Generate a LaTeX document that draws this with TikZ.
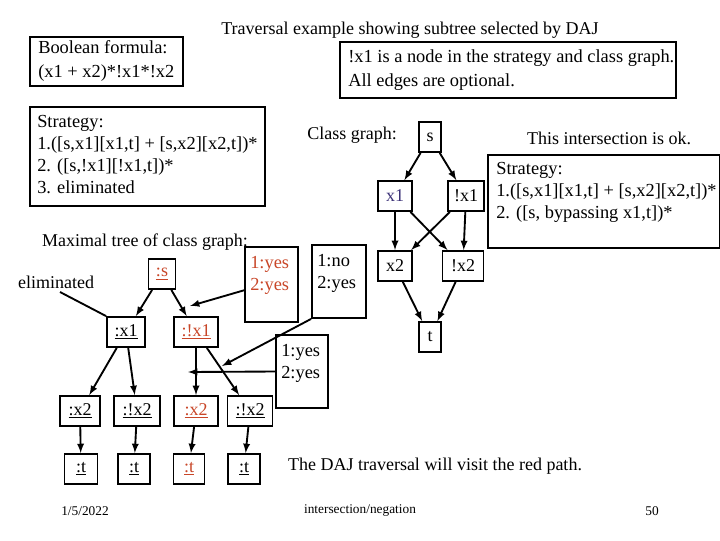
\documentclass[tikz,border=0pt]{standalone}
\usepackage{fontspec}
\setmainfont{Liberation Serif}
\begin{document}
\begin{tikzpicture}[x=0.75pt,y=-0.75pt,
  box/.style={draw,line width=1.4pt,inner sep=0pt},
  tn/.style={draw,line width=1.4pt,minimum height=30*0.75pt,font=\fontsize{13.5}{15}\selectfont,inner sep=1pt},
  ed/.style={line width=1.4pt,-latex},
  txt/.style={font=\fontsize{13.5}{15}\selectfont,inner sep=0pt},
  sm/.style={font=\fontsize{13.8}{16.5}\selectfont,inner sep=0pt,align=left}]
\definecolor{rd}{RGB}{200,70,40}
\definecolor{bl}{RGB}{60,50,120}
\useasboundingbox (0,0) rectangle (720,540);
% top
\node[txt] (title) at (410,30) {Traversal example showing subtree selected by DAJ};
\draw[line width=1.4pt] (30,37) rectangle (183,86);
\node[sm,anchor=west] (bool) at (38,61) {Boolean formula:\\[1pt](x1 + x2)*!x1*!x2};
\draw[line width=1.4pt] (340,42) rectangle (676,98);
\node[sm,anchor=west] (note) at (348,70) {!x1 is a node in the strategy and class graph.\\[1pt]All edges are optional.};
\draw[line width=1.4pt] (30,107) rectangle (265,206);
\node[sm,anchor=north west] (strat) at (37,115) {Strategy:\\1.([s,x1][x1,t] + [s,x2][x2,t])*\\2. ([s,!x1][!x1,t])*\\3. eliminated};
% class graph
\node[txt] (cgl) at (352,135) {Class graph:};
\node[tn,minimum width=22*0.75pt,inner sep=1pt] (s) at (430,137) {s};
\node[tn,minimum width=34*0.75pt,text=bl] (x1) at (395,196) {x1};
\node[tn,minimum width=36*0.75pt] (nx1) at (466,196) {!x1};
\node[tn,minimum width=34*0.75pt] (x2) at (395,266) {x2};
\node[tn,minimum width=41*0.75pt] (nx2) at (463,266) {!x2};
\node[tn,minimum width=22*0.75pt,inner sep=1pt] (t) at (430,337) {t};
\draw[ed] (s) -- (x1); \draw[ed] (s) -- (nx1);
\draw[ed] (x1) -- (x2); \draw[ed] (x1) -- (nx2);
\draw[ed] (nx1) -- (x2); \draw[ed] (nx1) -- (nx2);
\draw[ed] (x2) -- (t); \draw[ed] (nx2) -- (t);
\node[txt] (ok) at (609,138) {This intersection is ok.};
\draw[line width=1.4pt] (488,155) rectangle (720,248);
\node[sm,anchor=north west] (strat2) at (496,162) {Strategy:\\1.([s,x1][x1,t] + [s,x2][x2,t])*\\2. ([s, bypassing x1,t])*};
% tree
\node[txt] (mt) at (145,242) {Maximal tree of class graph:};
\node[txt] (elim) at (56,282) {eliminated};
\node[tn,minimum width=27*0.75pt,text=rd] (ts) at (162,274) {\underline{:s}};
\node[tn,minimum width=38*0.75pt] (tx1) at (126,332) {\underline{:x1}};
\node[tn,minimum width=44*0.75pt,text=rd] (tnx1) at (196,332) {\underline{:!x1}};
\node[tn,minimum width=40*0.75pt] (a2) at (80,411) {\underline{:x2}};
\node[tn,minimum width=46*0.75pt] (b2) at (137,411) {\underline{:!x2}};
\node[tn,minimum width=44*0.75pt,text=rd] (c2) at (196,411) {\underline{:x2}};
\node[tn,minimum width=45*0.75pt] (d2) at (250,411) {\underline{:!x2}};
\node[tn,minimum width=33*0.75pt] (at) at (81,469) {\underline{:t}};
\node[tn,minimum width=32*0.75pt] (bt) at (134,469) {\underline{:t}};
\node[tn,minimum width=31*0.75pt,text=rd] (ct) at (189,469) {\underline{:t}};
\node[tn,minimum width=32*0.75pt] (dt) at (244,469) {\underline{:t}};
\draw[ed] (ts) -- (tx1); \draw[ed] (ts) -- (tnx1);
\draw[ed] (tx1) -- (a2); \draw[ed] (tx1) -- (b2);
\draw[ed] (tnx1) -- (c2); \draw[ed] (tnx1) -- (d2);
\draw[ed] (a2) -- (at); \draw[ed] (b2) -- (bt); \draw[ed] (c2) -- (ct); \draw[ed] (d2) -- (dt);
\draw[line width=1.4pt] (60,292) -- (tx1.north west);
% annotation boxes
\node[box,minimum width=53*0.75pt,minimum height=75*0.75pt] (y1) at (271.5,284.5) {};
\node[sm,text=rd,anchor=north west] (y1t) at (250,256) {1:yes\\2:yes};
\node[box,minimum width=54*0.75pt,minimum height=73*0.75pt] (n1) at (339,281.5) {};
\node[sm,anchor=north west] (n1t) at (317,254) {1:no\\2:yes};
\node[box,minimum width=52*0.75pt,minimum height=73*0.75pt] (y2) at (302,371.5) {};
\node[sm,anchor=north west] (y2t) at (281,344) {1:yes\\2:yes};
\coordinate (p1) at (190,306);
\coordinate (p2) at (222,366);
\coordinate (p3) at (188,372);
\draw[ed] (245,290) -- (p1);
\draw[ed] (n1.south west) -- (p2);
\draw[ed] (y2.west) -- (p3);
% footer
\node[txt] (daj) at (435,466) {The DAJ traversal will visit the red path.};
\node[font=\fontsize{10}{12}\selectfont] (date) at (85,511) {1/5/2022};
\node[font=\fontsize{10}{12}\selectfont] (foot) at (360,511) {intersection/negation};
\node[font=\fontsize{10}{12}\selectfont] (num) at (652,511) {50};
\end{tikzpicture}
\end{document}
